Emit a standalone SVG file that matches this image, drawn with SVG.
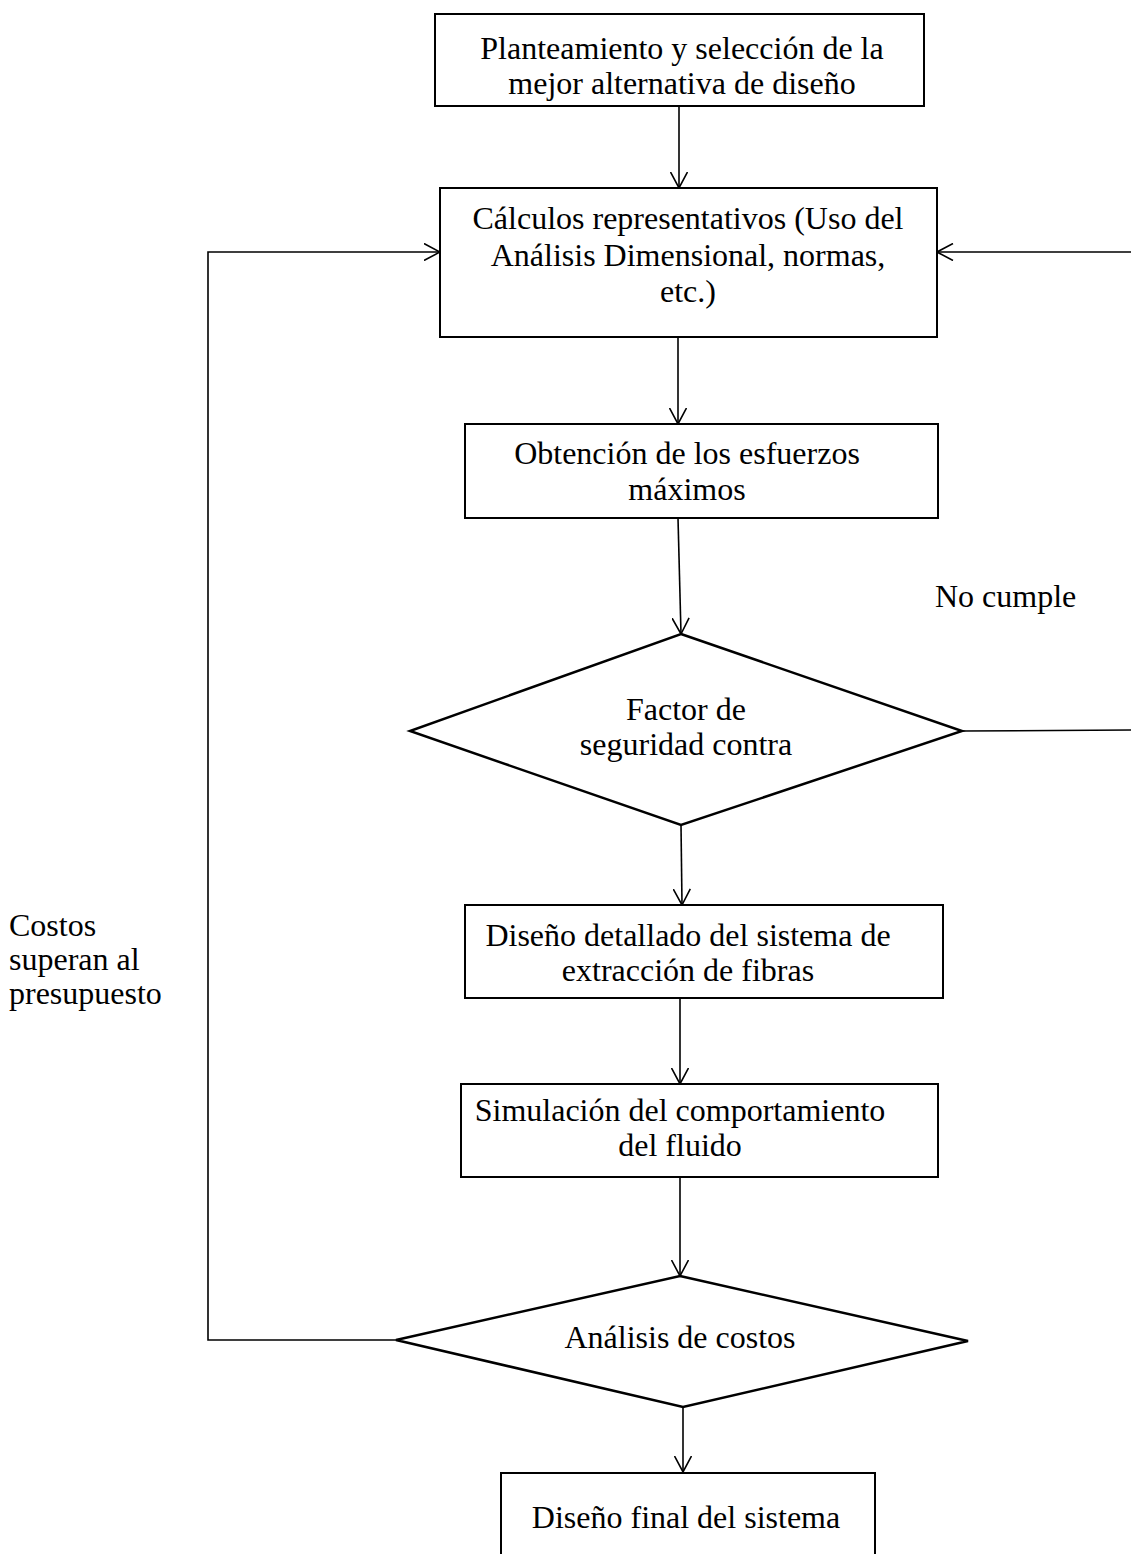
<svg xmlns="http://www.w3.org/2000/svg" width="1131" height="1554" viewBox="0 0 1131 1554">
<style>
.box{fill:#fff;stroke:#000;stroke-width:2}
.dia{fill:#fff;stroke:#000;stroke-width:2.5}
.con{fill:none;stroke:#000;stroke-width:1.6}
text{font-family:"Liberation Serif","Times New Roman",serif;font-size:32px;fill:#000}
.c{text-anchor:middle}
</style>
<defs>
<marker id="arr" viewBox="0 0 17 18" refX="16.5" refY="9" markerWidth="17" markerHeight="18" markerUnits="userSpaceOnUse" orient="auto">
<path d="M0.5,0.5 L16.5,9 L0.5,17.5" fill="none" stroke="#000" stroke-width="1.6"/>
</marker>
</defs>
<rect width="1131" height="1554" fill="#fff"/>
<g id="connectors">
<line class="con" x1="679" y1="106" x2="679" y2="188" marker-end="url(#arr)"/>
<line class="con" x1="678" y1="337" x2="678" y2="424" marker-end="url(#arr)"/>
<line class="con" x1="678" y1="518" x2="681" y2="634" marker-end="url(#arr)"/>
<line class="con" x1="681" y1="825" x2="682" y2="905" marker-end="url(#arr)"/>
<line class="con" x1="680" y1="998" x2="680" y2="1084" marker-end="url(#arr)"/>
<line class="con" x1="680" y1="1177" x2="680" y2="1276" marker-end="url(#arr)"/>
<line class="con" x1="683" y1="1407" x2="683" y2="1472" marker-end="url(#arr)"/>
<path class="con" d="M962,731 L1140,730 L1140,252 L937,252" marker-end="url(#arr)"/>
<path class="con" d="M396,1340 L208,1340 L208,252 L440,252" marker-end="url(#arr)"/>
</g>
<g id="n1">
<rect class="box" x="435" y="14" width="489" height="92"/>
<text class="c" x="682" y="59">Planteamiento y selección de la</text>
<text class="c" x="682" y="94">mejor alternativa de diseño</text>
</g>
<g id="n2">
<rect class="box" x="440" y="188" width="497" height="149"/>
<text class="c" x="688" y="229">Cálculos representativos (Uso del</text>
<text class="c" x="688" y="266">Análisis Dimensional, normas,</text>
<text class="c" x="688" y="302">etc.)</text>
</g>
<g id="n3">
<rect class="box" x="465" y="424" width="473" height="94"/>
<text class="c" x="687" y="464">Obtención de los esfuerzos</text>
<text class="c" x="687" y="500">máximos</text>
</g>
<g id="n4">
<polygon class="dia" points="681,634 962,731 681,825 410,731"/>
<text class="c" x="686" y="720">Factor de</text>
<text class="c" x="686" y="755">seguridad contra</text>
</g>
<g id="lbl-nocumple">
<text x="935" y="607">No cumple</text>
</g>
<g id="n5">
<rect class="box" x="465" y="905" width="478" height="93"/>
<text class="c" x="688" y="946">Diseño detallado del sistema de</text>
<text class="c" x="688" y="981">extracción de fibras</text>
</g>
<g id="lbl-costos">
<text x="9" y="936">Costos</text>
<text x="9" y="970">superan al</text>
<text x="9" y="1004">presupuesto</text>
</g>
<g id="n6">
<rect class="box" x="461" y="1084" width="477" height="93"/>
<text class="c" x="680" y="1121">Simulación del comportamiento</text>
<text class="c" x="680" y="1156">del fluido</text>
</g>
<g id="n7">
<polygon class="dia" points="680,1276 968,1341 683,1407 396,1340"/>
<text class="c" x="680" y="1348">Análisis de costos</text>
</g>
<g id="n8">
<rect class="box" x="501" y="1473" width="374" height="100"/>
<text class="c" x="686" y="1528">Diseño final del sistema</text>
</g>
</svg>
